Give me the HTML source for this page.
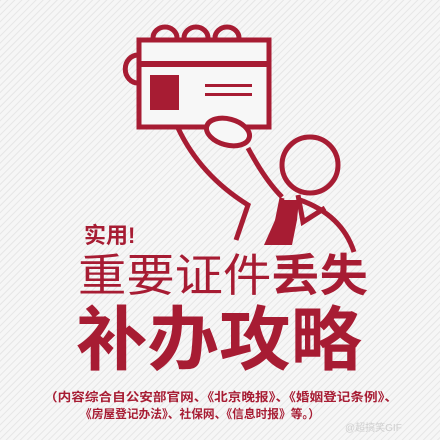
<!DOCTYPE html>
<html><head><meta charset="utf-8"><style>
html,body{margin:0;padding:0;width:440px;height:440px;overflow:hidden;background:#f4f4f4}
svg{display:block}
text{font-family:"Liberation Sans","Noto Sans CJK SC",sans-serif;fill:#a71c33}
</style></head><body>
<svg width="440" height="440" viewBox="0 0 440 440">
<defs><pattern id="st" width="5" height="5" patternUnits="userSpaceOnUse" patternTransform="rotate(-45)"><rect width="5" height="5" fill="#f6f6f6"/><rect width="5" height="1" fill="#e6e6e6"/></pattern></defs>
<rect width="440" height="440" fill="url(#st)"/>
<g fill="none" stroke="#a71c33" stroke-width="5">
<path d="M153,38 a12,11 0 0 1 24,0 M184,38 a12,11 0 0 1 24,0 M215,38 a12,11 0 0 1 24,0"/>
<path d="M138,55 a10,11 0 0 0 0,28"/>
<rect x="139" y="40" width="130" height="87" fill="#f7f7f7"/>
<path d="M178,128 Q200,175 248,205 L236,240"/>
<ellipse cx="228" cy="132" rx="22" ry="13" transform="rotate(15 228 132)" fill="#f7f7f7"/>
<path d="M248,148 Q265,180 282,197"/>
<circle cx="310" cy="165" r="28"/>
<path d="M300,200 Q342,215 354,252"/>
<path d="M282,198 L276,228 M298,195 L303,222 L325,208"/>
</g>
<rect x="141" y="61" width="126" height="6" fill="#a71c33"/>
<rect x="150" y="75" width="29" height="35" fill="#a71c33"/>
<rect x="205" y="84" width="47" height="3" fill="#a71c33"/>
<rect x="205" y="93" width="47" height="3" fill="#a71c33"/>
<path d="M284,200 L299,200 L297,220 L292,245 L264,245 Z" fill="#a71c33"/>
<text x="84" y="243" font-size="22" font-weight="bold">实用!</text>
<text x="78" y="291" font-size="45" textLength="290" lengthAdjust="spacingAndGlyphs">重要证件<tspan font-weight="bold">丢失</tspan></text>
<text x="76" y="364" font-size="70" font-weight="bold" textLength="286" lengthAdjust="spacingAndGlyphs">补办攻略</text>
<text x="44" y="401" font-size="12" font-weight="bold" textLength="354" lengthAdjust="spacingAndGlyphs">（内容综合自公安部官网、《北京晚报》、《婚姻登记条例》、</text>
<text x="80" y="418" font-size="12" font-weight="bold" textLength="240" lengthAdjust="spacingAndGlyphs">《房屋登记办法》、社保网、《信息时报》等。）</text>
<text x="345" y="431" font-size="10" style="fill:#cfcfcf">@超搞笑GIF</text>
</svg>
</body></html>
